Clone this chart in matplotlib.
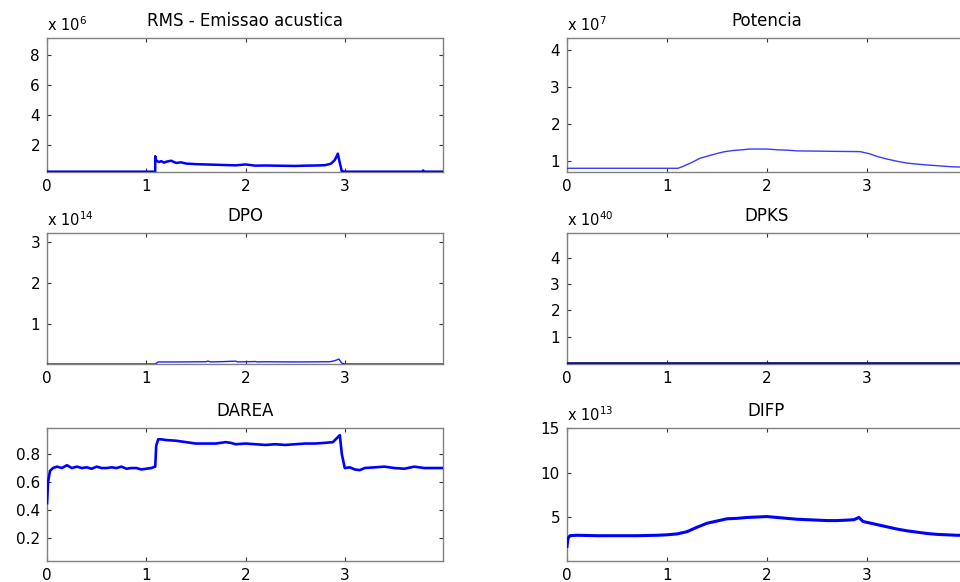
import matplotlib
matplotlib.use('Agg')
import matplotlib.pyplot as plt

plt.rcParams['font.family'] = ['DejaVu Sans']
plt.rcParams['mathtext.default'] = 'regular'

# time axis ticks (all panels)
x_ticks = [0, 1, 2, 3]
x_lim = (0, 3.99)

# RMS - Emissao acustica (x 10^6)
rms_t = [0.0, 1.09, 1.09, 1.10, 1.13, 1.15, 1.18, 1.20, 1.25, 1.30, 1.35, 1.40,
         1.50, 1.60, 1.70, 1.80, 1.90, 2.00, 2.10, 2.20, 2.30, 2.40, 2.50, 2.60,
         2.70, 2.80, 2.86, 2.90, 2.93, 2.95, 2.97, 3.00, 3.78, 3.79, 3.80, 3.99]
rms_v = [0.22, 0.22, 1.25, 0.95, 0.86, 0.92, 0.82, 0.88, 0.95, 0.80, 0.84, 0.76,
         0.72, 0.70, 0.68, 0.66, 0.64, 0.70, 0.62, 0.63, 0.62, 0.61, 0.60, 0.62,
         0.63, 0.65, 0.75, 1.00, 1.42, 0.80, 0.25, 0.22, 0.22, 0.30, 0.22, 0.22]

# Potencia (x 10^7)
pot_t = [0.0, 1.11, 1.16, 1.25, 1.33, 1.42, 1.50, 1.58, 1.66, 1.75, 1.83, 2.00,
         2.10, 2.20, 2.30, 2.60, 2.93, 3.03, 3.10, 3.20, 3.30, 3.40, 3.55, 3.70,
         3.85, 3.99]
pot_v = [0.80, 0.80, 0.85, 0.96, 1.07, 1.14, 1.20, 1.25, 1.28, 1.30, 1.32, 1.32,
         1.30, 1.29, 1.27, 1.26, 1.25, 1.19, 1.12, 1.05, 0.99, 0.94, 0.90, 0.87,
         0.84, 0.83]

# DPO (x 10^14)
dpo_t = [0.0, 1.09, 1.12, 1.30, 1.60, 1.62, 1.65, 1.80, 1.90, 1.92, 2.00, 2.10,
         2.12, 2.20, 2.50, 2.85, 2.90, 2.94, 2.97, 3.00, 3.99]
dpo_v = [0.02, 0.02, 0.07, 0.07, 0.075, 0.09, 0.07, 0.08, 0.09, 0.07, 0.075, 0.08,
         0.07, 0.075, 0.07, 0.075, 0.10, 0.14, 0.04, 0.02, 0.02]

# DPKS (x 10^40)
dpks_t = [0.0, 3.99]
dpks_v = [0.0, 0.0]

# DAREA
darea_t = [0.0, 0.01, 0.03, 0.06, 0.10, 0.15, 0.20, 0.25, 0.30, 0.35, 0.40, 0.45,
           0.50, 0.55, 0.60, 0.65, 0.70, 0.75, 0.80, 0.85, 0.90, 0.95, 1.00, 1.05,
           1.09, 1.10, 1.12, 1.15, 1.20, 1.30, 1.40, 1.50, 1.60, 1.70, 1.80, 1.85,
           1.90, 2.00, 2.10, 2.20, 2.30, 2.40, 2.50, 2.60, 2.70, 2.80, 2.88, 2.95,
           2.97, 3.00, 3.05, 3.10, 3.15, 3.20, 3.30, 3.40, 3.50, 3.60, 3.70, 3.80,
           3.90, 3.99]
darea_v = [0.45, 0.60, 0.68, 0.70, 0.71, 0.70, 0.72, 0.70, 0.71, 0.70, 0.705, 0.695,
           0.71, 0.70, 0.70, 0.705, 0.70, 0.71, 0.695, 0.70, 0.70, 0.69, 0.695, 0.70,
           0.71, 0.86, 0.905, 0.905, 0.90, 0.895, 0.885, 0.875, 0.875, 0.875, 0.885, 0.88,
           0.87, 0.875, 0.87, 0.865, 0.87, 0.865, 0.87, 0.875, 0.875, 0.88, 0.885, 0.935,
           0.80, 0.70, 0.705, 0.69, 0.685, 0.70, 0.705, 0.71, 0.70, 0.695, 0.71, 0.70,
           0.70, 0.70]

# DIFP (x 10^13)
difp_t = [0.0, 0.01, 0.03, 0.10, 0.30, 0.50, 0.70, 0.90, 1.00, 1.10, 1.20, 1.30,
          1.40, 1.50, 1.60, 1.70, 1.80, 1.90, 2.00, 2.10, 2.20, 2.30, 2.40, 2.50,
          2.60, 2.70, 2.80, 2.87, 2.92, 2.96, 3.00, 3.10, 3.20, 3.30, 3.40, 3.50,
          3.60, 3.70, 3.80, 3.90, 3.99]
difp_v = [1.7, 2.6, 2.9, 2.95, 2.9, 2.9, 2.9, 2.95, 3.0, 3.1, 3.35, 3.85,
          4.3, 4.55, 4.8, 4.85, 4.95, 5.0, 5.05, 4.95, 4.85, 4.75, 4.7, 4.65,
          4.6, 4.6, 4.65, 4.7, 4.95, 4.5, 4.4, 4.15, 3.9, 3.65, 3.45, 3.3,
          3.15, 3.05, 3.0, 2.95, 2.95]

panels = [
    # title, t, v, exponent, yticks, ylabels, ylim, position, lw, color
    ('RMS - Emissao acustica', rms_t, rms_v, '6', [2, 4, 6, 8], ['2', '4', '6', '8'],
     (0.2, 9.1), [0.0490, 0.7045, 0.4125, 0.2302], 1.8, '#0000ff'),
    ('Potencia', pot_t, pot_v, '7', [1, 2, 3, 4], ['1', '2', '3', '4'],
     (0.70, 4.32), [0.5906, 0.7045, 0.4156, 0.2302], 1.0, '#3a3aff'),
    ('DPO', dpo_t, dpo_v, '14', [1, 2, 3], ['1', '2', '3'],
     (0.02, 3.22), [0.0490, 0.3746, 0.4125, 0.2251], 1.0, '#2020ff'),
    ('DPKS', dpks_t, dpks_v, '40', [1, 2, 3, 4], ['1', '2', '3', '4'],
     (-0.04, 4.95), [0.5906, 0.3746, 0.4156, 0.2251], 2.0, '#10108a'),
    ('DAREA', darea_t, darea_v, None, [0.2, 0.4, 0.6, 0.8], ['0.2', '0.4', '0.6', '0.8'],
     (0.036, 0.986), [0.0490, 0.0361, 0.4125, 0.2285], 1.9, '#0000ff'),
    ('DIFP', difp_t, difp_v, '13', [5, 10, 15], ['5', '10', '15'],
     (0.06, 15.0), [0.5906, 0.0361, 0.4156, 0.2285], 2.2, '#0000ff'),
]

fig = plt.figure(figsize=(9.6, 5.82), dpi=100)

for title, t, v, exp, yt, yl, ylim, pos, lw, color in panels:
    ax = fig.add_axes(pos)
    ax.plot(t, v, color=color, lw=lw, zorder=3)
    ax.set_xlim(*x_lim)
    ax.set_ylim(*ylim)
    ax.set_xticks(x_ticks)
    ax.set_xticklabels([str(x) for x in x_ticks])
    ax.set_yticks(yt)
    ax.set_yticklabels(yl)
    ax.tick_params(direction='in', length=3, width=0.8, colors='#333333',
                   labelcolor='black', labelsize=11, top=True, right=True, pad=5)
    for s in ax.spines.values():
        s.set_color('#808080')
        s.set_linewidth(1.0)
    ax.set_title(title, fontsize=12, pad=8.5)
    if exp:
        ax.annotate('x 10$^{%s}$' % exp, xy=(0, 1), xycoords='axes fraction',
                    xytext=(0, 5), textcoords='offset points',
                    ha='left', va='baseline', fontsize=10.5)

fig.savefig('out.png', dpi=100)
